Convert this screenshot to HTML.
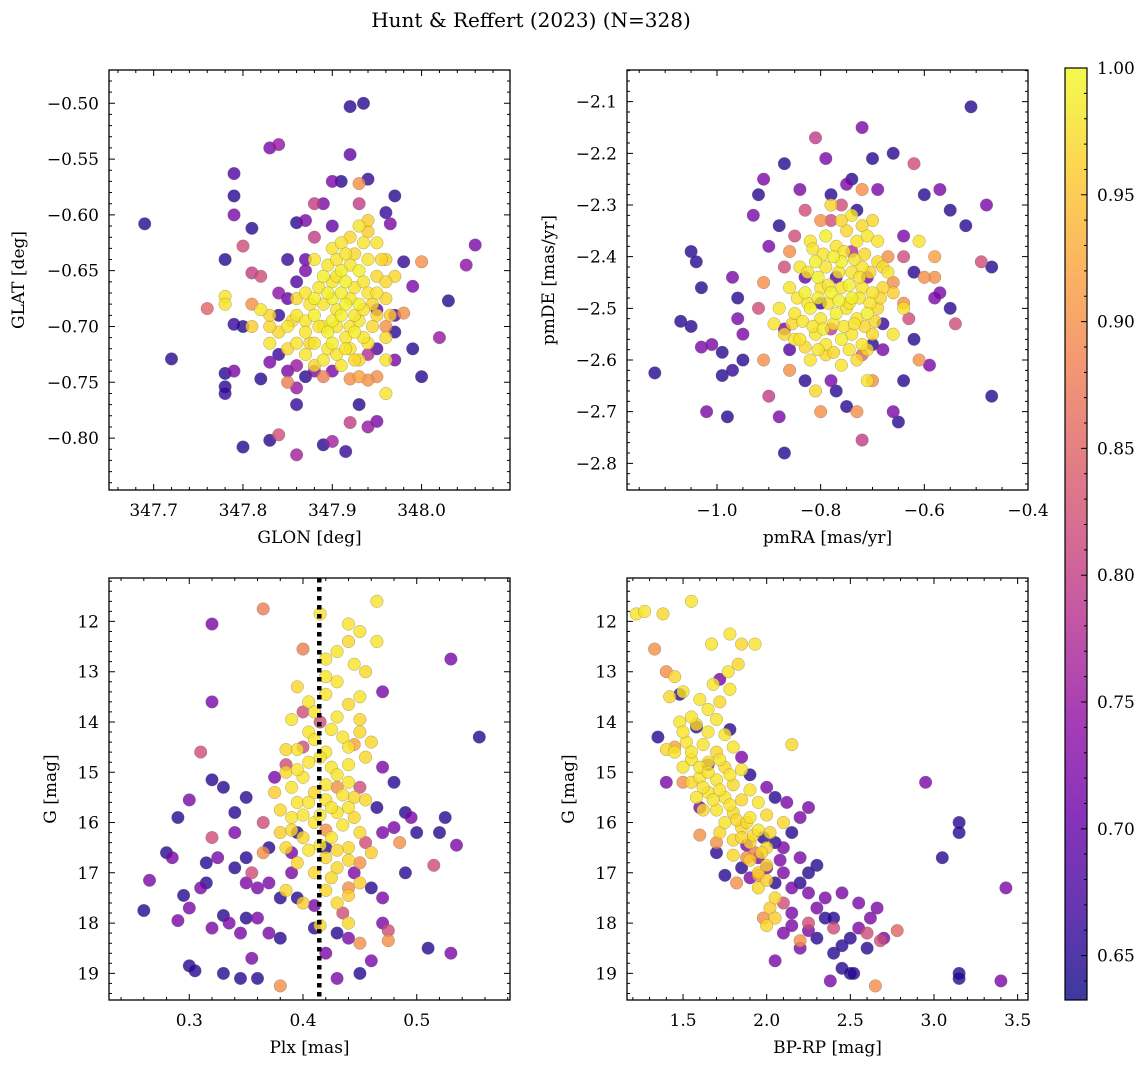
<!DOCTYPE html>
<html><head><meta charset="utf-8">
<style>
html,body{margin:0;padding:0;background:#fff;}
svg{display:block;font-family:"DejaVu Serif","Liberation Serif",serif;}
</style></head>
<body>
<svg id="fig" width="1148" height="1068" viewBox="0 0 1148 1068" xmlns="http://www.w3.org/2000/svg">
<text x="531" y="27" text-anchor="middle" font-size="20">Hunt &amp; Reffert (2023) (N=328)</text>
</svg>
<script>
// ---------- DATA ----------
// [x, y, membership probability]
const glonGlat = [
[347.69,-0.608,0.65],[347.72,-0.729,0.65],[347.92,-0.503,0.65],[347.935,-0.5,0.65],[347.92,-0.546,0.7],[347.94,-0.568,0.66],
[347.83,-0.54,0.72],[347.84,-0.537,0.75],[347.79,-0.563,0.68],[347.79,-0.583,0.65],[347.79,-0.6,0.72],[347.78,-0.64,0.65],
[347.76,-0.684,0.85],[347.78,-0.742,0.65],[347.79,-0.74,0.72],[347.8,-0.808,0.65],[347.83,-0.802,0.65],[347.84,-0.797,0.82],
[347.86,-0.815,0.76],[347.9,-0.803,0.76],[347.89,-0.806,0.65],[347.915,-0.812,0.66],[347.92,-0.786,0.8],[347.94,-0.79,0.75],
[347.95,-0.785,0.72],[347.86,-0.77,0.66],[348.06,-0.627,0.72],[348.05,-0.645,0.74],[348.03,-0.677,0.65],[348.0,-0.642,0.9],
[348.0,-0.745,0.65],[348.02,-0.71,0.75],[347.97,-0.583,0.65],[347.96,-0.598,0.66],[347.965,-0.608,0.72],[347.98,-0.642,0.66],
[347.99,-0.664,0.72],[347.9,-0.57,0.72],[347.91,-0.57,0.65],[347.93,-0.572,0.9],[347.93,-0.59,0.8],[347.86,-0.607,0.65],
[347.87,-0.605,0.72],[347.88,-0.59,0.8],[347.89,-0.59,0.72],[347.81,-0.612,0.65],[347.8,-0.628,0.82],[347.81,-0.652,0.8],
[347.82,-0.655,0.82],[347.78,-0.673,0.98],[347.78,-0.68,0.98],[347.81,-0.68,0.9],[347.8,-0.7,0.65],[347.79,-0.698,0.66],
[347.78,-0.754,0.65],[347.78,-0.76,0.66],[347.83,-0.732,0.72],[347.82,-0.747,0.65],[347.96,-0.7,0.9],[347.97,-0.705,0.65],
[347.98,-0.688,0.9],[347.99,-0.72,0.65],[347.97,-0.73,0.72],[347.95,-0.745,0.9],[347.96,-0.76,0.98],[347.96,-0.73,0.98],
[347.94,-0.748,0.9],[347.92,-0.747,0.9],[347.93,-0.77,0.65],[347.85,-0.74,0.72],[347.87,-0.745,0.65],[347.88,-0.74,0.72],
[347.86,-0.755,0.75],[347.87,-0.65,0.72],[347.86,-0.66,0.68],[347.85,-0.675,0.7],[347.84,-0.69,0.66],[347.95,-0.685,0.7],
[347.97,-0.69,0.68],[347.86,-0.735,0.75],[347.84,-0.725,0.66],[347.88,-0.62,0.8],[347.9,-0.61,0.7],[347.85,-0.64,0.66],
[347.94,-0.725,0.78],[347.89,-0.745,0.88],[347.93,-0.745,0.92],[347.85,-0.75,0.88],
[347.9,-0.63,0.98],[347.91,-0.625,0.98],[347.92,-0.62,0.97],[347.93,-0.61,0.98],[347.94,-0.615,0.96],[347.95,-0.625,0.98],
[347.88,-0.64,0.98],[347.89,-0.655,0.99],[347.9,-0.66,0.98],[347.91,-0.65,0.99],[347.92,-0.645,0.98],[347.93,-0.65,0.99],
[347.94,-0.64,0.98],[347.95,-0.655,0.97],[347.87,-0.67,0.98],[347.88,-0.675,0.99],[347.89,-0.68,0.98],[347.9,-0.675,0.99],
[347.91,-0.67,0.99],[347.92,-0.675,0.98],[347.93,-0.68,0.99],[347.94,-0.67,0.98],[347.96,-0.675,0.97],[347.86,-0.69,0.98],
[347.87,-0.695,0.98],[347.88,-0.69,0.99],[347.89,-0.7,0.98],[347.9,-0.695,0.99],[347.91,-0.69,0.99],[347.92,-0.7,0.98],
[347.93,-0.695,0.98],[347.95,-0.69,0.97],[347.85,-0.7,0.98],[347.84,-0.705,0.97],[347.86,-0.715,0.98],[347.88,-0.715,0.98],
[347.9,-0.715,0.99],[347.92,-0.72,0.98],[347.94,-0.715,0.98],[347.96,-0.71,0.97],[347.89,-0.73,0.98],[347.91,-0.735,0.98],
[347.93,-0.73,0.97],[347.87,-0.725,0.98],[347.82,-0.685,0.98],[347.83,-0.7,0.97],[347.83,-0.715,0.98],[347.97,-0.655,0.97],
[347.96,-0.64,0.96],[347.95,-0.67,0.98]
];
const glonGlatCore = [
[347.895,-0.645,0.98],[347.905,-0.655,0.98],[347.915,-0.66,0.99],[347.925,-0.665,0.98],[347.935,-0.66,0.98],[347.885,-0.665,0.98],
[347.895,-0.67,0.99],[347.905,-0.685,0.98],[347.915,-0.68,0.99],[347.925,-0.69,0.98],[347.935,-0.685,0.98],[347.945,-0.68,0.97],
[347.875,-0.68,0.98],[347.885,-0.7,0.98],[347.895,-0.705,0.99],[347.905,-0.7,0.98],[347.915,-0.71,0.98],[347.925,-0.705,0.99],
[347.935,-0.71,0.98],[347.945,-0.7,0.97],[347.87,-0.705,0.98],[347.875,-0.715,0.97],[347.895,-0.72,0.98],[347.905,-0.725,0.98],
[347.915,-0.72,0.98],[347.925,-0.73,0.97],[347.905,-0.64,0.98],[347.915,-0.635,0.98],[347.925,-0.635,0.97],[347.935,-0.625,0.98],
[347.94,-0.605,0.96],[347.955,-0.64,0.97],[347.96,-0.66,0.97],[347.965,-0.69,0.96],[347.86,-0.675,0.97],[347.855,-0.695,0.97],
[347.83,-0.69,0.97],[347.81,-0.7,0.96],[347.85,-0.72,0.97],[347.88,-0.735,0.97],
[347.87,-0.64,0.7],[347.9,-0.74,0.72],[347.95,-0.72,0.68],[347.84,-0.67,0.74]
];
const pmraPmde = [
[-1.12,-2.625,0.65],[-1.07,-2.525,0.65],[-1.05,-2.535,0.65],[-1.05,-2.39,0.65],[-1.04,-2.41,0.65],[-1.03,-2.46,0.65],
[-1.03,-2.575,0.72],[-1.01,-2.57,0.72],[-1.02,-2.7,0.72],[-0.98,-2.71,0.65],[-0.99,-2.585,0.65],[-0.99,-2.63,0.65],
[-0.97,-2.62,0.66],[-0.97,-2.44,0.72],[-0.96,-2.48,0.65],[-0.96,-2.52,0.72],[-0.95,-2.6,0.65],[-0.95,-2.55,0.72],
[-0.93,-2.32,0.72],[-0.92,-2.28,0.65],[-0.91,-2.25,0.72],[-0.9,-2.38,0.72],[-0.88,-2.34,0.65],[-0.87,-2.22,0.65],
[-0.88,-2.71,0.72],[-0.87,-2.78,0.65],[-0.9,-2.67,0.8],[-0.84,-2.27,0.72],[-0.83,-2.31,0.82],[-0.81,-2.17,0.8],
[-0.79,-2.21,0.72],[-0.78,-2.28,0.65],[-0.76,-2.3,0.82],[-0.75,-2.26,0.72],[-0.74,-2.25,0.65],[-0.72,-2.15,0.72],
[-0.7,-2.21,0.65],[-0.69,-2.27,0.72],[-0.66,-2.2,0.65],[-0.62,-2.22,0.82],[-0.6,-2.28,0.65],[-0.57,-2.27,0.72],
[-0.55,-2.31,0.65],[-0.52,-2.34,0.65],[-0.51,-2.11,0.65],[-0.48,-2.3,0.72],[-0.49,-2.41,0.82],[-0.47,-2.42,0.65],
[-0.47,-2.67,0.65],[-0.54,-2.53,0.82],[-0.55,-2.5,0.65],[-0.57,-2.47,0.72],[-0.58,-2.44,0.9],[-0.6,-2.44,0.9],
[-0.58,-2.4,0.92],[-0.58,-2.48,0.72],[-0.59,-2.61,0.72],[-0.61,-2.6,0.9],[-0.62,-2.56,0.65],[-0.63,-2.52,0.82],
[-0.64,-2.64,0.65],[-0.65,-2.72,0.65],[-0.66,-2.7,0.72],[-0.7,-2.64,0.9],[-0.71,-2.64,0.98],[-0.72,-2.755,0.8],
[-0.73,-2.7,0.9],[-0.75,-2.69,0.65],[-0.77,-2.66,0.65],[-0.78,-2.64,0.72],[-0.8,-2.7,0.9],[-0.81,-2.66,0.97],
[-0.83,-2.64,0.65],[-0.86,-2.62,0.9],[-0.85,-2.56,0.98],[-0.87,-2.54,0.72],[-0.89,-2.53,0.98],[-0.91,-2.6,0.9],
[-0.92,-2.5,0.82],[-0.91,-2.45,0.9],[-0.87,-2.42,0.82],[-0.86,-2.39,0.9],[-0.85,-2.36,0.82],[-0.8,-2.33,0.9],
[-0.78,-2.33,0.82],[-0.72,-2.27,0.9],[-0.73,-2.31,0.65],[-0.64,-2.36,0.72],[-0.61,-2.37,0.98],[-0.62,-2.43,0.65],
[-0.64,-2.4,0.82],[-0.66,-2.45,0.9],[-0.64,-2.49,0.9],[-0.64,-2.5,0.98],[-0.68,-2.58,0.72],[-0.7,-2.57,0.65],
[-0.66,-2.55,0.98],[-0.83,-2.44,0.7],[-0.77,-2.44,0.68],[-0.71,-2.44,0.72],[-0.86,-2.58,0.68],[-0.78,-2.54,0.8],
[-0.68,-2.53,0.66],[-0.74,-2.39,0.78],[-0.8,-2.49,0.66],[-0.72,-2.59,0.85],[-0.67,-2.4,0.9],
[-0.82,-2.37,0.98],[-0.79,-2.36,0.99],[-0.77,-2.38,0.98],[-0.75,-2.35,0.97],[-0.73,-2.37,0.98],[-0.71,-2.36,0.98],
[-0.7,-2.33,0.97],[-0.84,-2.42,0.98],[-0.81,-2.41,0.99],[-0.79,-2.42,0.98],[-0.76,-2.41,0.99],[-0.74,-2.43,0.98],
[-0.72,-2.42,0.98],[-0.69,-2.41,0.97],[-0.67,-2.43,0.98],[-0.86,-2.46,0.98],[-0.83,-2.47,0.99],[-0.8,-2.46,0.98],
[-0.78,-2.47,0.99],[-0.76,-2.46,0.98],[-0.74,-2.48,0.99],[-0.72,-2.46,0.98],[-0.7,-2.47,0.98],[-0.68,-2.46,0.97],
[-0.88,-2.5,0.98],[-0.85,-2.51,0.98],[-0.82,-2.5,0.99],[-0.8,-2.52,0.98],[-0.77,-2.51,0.99],[-0.75,-2.5,0.98],
[-0.73,-2.52,0.98],[-0.71,-2.51,0.99],[-0.69,-2.5,0.97],[-0.87,-2.55,0.97],[-0.84,-2.56,0.98],[-0.81,-2.55,0.98],
[-0.79,-2.57,0.98],[-0.76,-2.56,0.99],[-0.74,-2.55,0.98],[-0.72,-2.57,0.98],[-0.7,-2.55,0.97],[-0.82,-2.6,0.98],
[-0.79,-2.59,0.97],[-0.76,-2.61,0.98],[-0.73,-2.6,0.97],[-0.78,-2.3,0.97],[-0.74,-2.32,0.98],[-0.69,-2.37,0.98]
];
const pmraPmdeCore = [
[-0.815,-2.385,0.98],[-0.795,-2.395,0.98],[-0.775,-2.4,0.99],[-0.755,-2.39,0.98],[-0.735,-2.405,0.98],[-0.715,-2.395,0.97],
[-0.825,-2.43,0.98],[-0.805,-2.44,0.99],[-0.785,-2.455,0.98],[-0.765,-2.43,0.98],[-0.745,-2.455,0.99],[-0.725,-2.44,0.98],
[-0.705,-2.43,0.97],[-0.845,-2.48,0.98],[-0.825,-2.49,0.98],[-0.805,-2.48,0.99],[-0.785,-2.49,0.98],[-0.765,-2.485,0.99],
[-0.745,-2.49,0.98],[-0.725,-2.48,0.98],[-0.705,-2.49,0.98],[-0.685,-2.48,0.97],[-0.855,-2.53,0.97],[-0.835,-2.525,0.98],
[-0.815,-2.535,0.98],[-0.795,-2.54,0.99],[-0.775,-2.53,0.98],[-0.755,-2.535,0.98],[-0.735,-2.53,0.98],[-0.715,-2.535,0.97],
[-0.695,-2.525,0.97],[-0.83,-2.575,0.97],[-0.805,-2.58,0.98],[-0.775,-2.585,0.97],[-0.745,-2.58,0.98],[-0.71,-2.58,0.97],
[-0.76,-2.33,0.97],[-0.72,-2.34,0.97],[-0.68,-2.42,0.97],[-0.66,-2.47,0.96]
];
const plxG = [
[0.26,17.75,0.65],[0.265,17.15,0.72],[0.28,16.6,0.65],[0.285,16.7,0.72],[0.29,17.95,0.72],[0.29,15.9,0.65],
[0.295,17.45,0.65],[0.3,18.85,0.65],[0.3,17.7,0.72],[0.3,15.55,0.72],[0.305,18.95,0.65],[0.31,17.3,0.72],
[0.31,14.6,0.82],[0.315,16.8,0.65],[0.315,17.2,0.65],[0.32,12.05,0.72],[0.32,13.6,0.72],[0.32,15.15,0.65],
[0.32,18.1,0.72],[0.32,16.3,0.82],[0.325,16.7,0.72],[0.33,15.3,0.65],[0.33,17.85,0.65],[0.33,19.0,0.65],
[0.335,18.0,0.72],[0.34,15.8,0.65],[0.34,16.2,0.72],[0.345,18.2,0.72],[0.345,19.1,0.65],[0.35,15.5,0.65],
[0.35,16.7,0.65],[0.35,17.2,0.72],[0.355,18.7,0.72],[0.36,19.1,0.65],[0.36,17.9,0.72],[0.365,11.75,0.88],
[0.365,16.0,0.82],[0.37,17.2,0.72],[0.37,16.5,0.65],[0.375,15.1,0.72],[0.38,17.5,0.65],[0.38,18.3,0.65],
[0.38,19.25,0.9],[0.385,14.85,0.82],[0.39,16.6,0.72],[0.39,17.0,0.72],[0.395,17.5,0.65],[0.395,16.2,0.65],
[0.4,13.8,0.82],[0.4,14.5,0.82],[0.4,12.55,0.88],[0.41,18.1,0.65],[0.41,17.65,0.72],[0.415,14.0,0.82],
[0.42,18.6,0.72],[0.42,16.5,0.65],[0.43,19.1,0.72],[0.43,18.2,0.65],[0.435,17.8,0.82],[0.44,18.3,0.72],
[0.44,17.3,0.9],[0.445,17.0,0.72],[0.45,18.4,0.9],[0.45,15.3,0.82],[0.45,16.8,0.9],[0.455,16.4,0.82],
[0.46,18.75,0.72],[0.46,17.3,0.65],[0.465,15.7,0.65],[0.47,14.9,0.72],[0.47,13.4,0.72],[0.47,16.2,0.72],
[0.475,18.35,0.9],[0.475,18.15,0.82],[0.48,15.2,0.65],[0.48,16.1,0.72],[0.485,16.4,0.9],[0.49,15.8,0.65],
[0.495,15.9,0.72],[0.5,16.2,0.65],[0.51,18.5,0.65],[0.515,16.85,0.82],[0.52,16.2,0.65],[0.525,15.9,0.65],
[0.53,12.75,0.72],[0.53,18.6,0.72],[0.535,16.45,0.72],[0.555,14.3,0.65],[0.445,14.45,0.92],[0.43,15.3,0.9],
[0.42,16.15,0.9],[0.365,16.6,0.9],[0.355,17.0,0.82],
[0.465,11.6,0.98],[0.415,11.85,0.98],[0.44,12.05,0.98],[0.44,12.4,0.97],[0.465,12.4,0.98],[0.42,12.75,0.98],
[0.445,12.85,0.98],[0.455,13.0,0.97],[0.42,13.1,0.98],[0.43,13.2,0.98],[0.395,13.3,0.97],[0.42,13.45,0.98],
[0.45,13.5,0.98],[0.405,13.6,0.98],[0.44,13.65,0.97],[0.39,13.95,0.98],[0.405,14.2,0.98],[0.43,13.9,0.98],
[0.45,13.95,0.97],[0.425,14.15,0.98],[0.41,14.35,0.98],[0.385,14.55,0.97],[0.395,14.55,0.98],[0.42,14.6,0.98],
[0.44,14.5,0.98],[0.46,14.4,0.97],[0.405,14.8,0.98],[0.425,14.9,0.98],[0.385,15.0,0.97],[0.4,15.1,0.98],
[0.43,15.05,0.98],[0.39,15.3,0.98],[0.41,15.4,0.97],[0.42,15.55,0.98],[0.44,15.2,0.98],[0.445,15.5,0.97],
[0.395,15.6,0.98],[0.38,15.75,0.97],[0.4,15.85,0.98],[0.43,15.8,0.98],[0.445,15.9,0.97],[0.41,16.0,0.98],
[0.39,16.15,0.97],[0.425,16.3,0.98],[0.44,16.5,0.97],[0.405,16.55,0.98],[0.42,16.7,0.97],[0.43,16.9,0.97],
[0.45,16.2,0.97],[0.385,16.5,0.97],[0.44,15.7,0.98],[0.42,17.35,0.97],[0.43,17.6,0.97],[0.385,17.35,0.97],
[0.44,18.0,0.97],[0.415,18.05,0.97]
];
const plxGCore = [
[0.43,12.6,0.98],[0.45,12.2,0.98],[0.41,13.8,0.98],[0.435,14.3,0.98],[0.415,14.7,0.98],[0.44,14.85,0.98],
[0.455,14.7,0.97],[0.395,14.95,0.98],[0.42,15.25,0.98],[0.435,15.45,0.98],[0.405,15.6,0.98],[0.425,15.7,0.98],
[0.455,15.55,0.97],[0.39,15.9,0.98],[0.415,15.85,0.98],[0.435,16.05,0.98],[0.4,16.3,0.97],[0.43,16.55,0.97],
[0.415,16.45,0.98],[0.395,16.8,0.97],[0.44,16.75,0.97],[0.41,17.0,0.97],[0.425,17.1,0.97],[0.45,17.2,0.96],
[0.4,17.6,0.96],[0.44,17.45,0.96],[0.46,16.6,0.96],[0.38,16.2,0.96],[0.375,15.4,0.96],[0.45,14.2,0.97],
[0.36,17.3,0.72],[0.35,17.9,0.65],[0.37,18.2,0.72],[0.34,16.9,0.65],[0.47,17.5,0.72],[0.49,17.0,0.65],
[0.47,18.0,0.72],[0.45,19.0,0.65]
];
const bprpG = [
[1.22,11.85,0.98],[1.27,11.8,0.98],[1.38,11.85,0.97],[1.55,11.6,0.98],[1.67,12.45,0.98],[1.78,12.25,0.98],
[1.85,12.45,0.97],[1.93,12.45,0.98],[1.77,13.0,0.98],[1.83,12.85,0.97],[1.68,13.25,0.98],[1.78,13.35,0.98],
[1.42,13.5,0.97],[1.5,13.4,0.98],[1.45,13.1,0.97],[1.6,13.55,0.98],[1.65,13.75,0.98],[1.55,13.9,0.98],
[1.72,13.6,0.97],[1.7,13.95,0.98],[1.48,14.0,0.98],[1.58,14.05,0.97],[1.65,14.2,0.98],[1.75,14.25,0.98],
[1.52,14.4,0.98],[1.62,14.45,0.98],[1.7,14.6,0.97],[1.8,14.5,0.98],[1.45,14.6,0.98],[1.55,14.75,0.98],
[1.65,14.8,0.98],[1.75,14.9,0.97],[1.85,14.95,0.98],[1.6,15.1,0.98],[1.7,15.15,0.98],[1.8,15.25,0.97],
[1.9,15.35,0.98],[1.65,15.4,0.98],[1.75,15.5,0.98],[1.85,15.55,0.97],[1.95,15.6,0.98],[1.7,15.75,0.98],
[1.8,15.8,0.97],[1.9,15.9,0.98],[2.0,15.85,0.97],[1.75,16.0,0.98],[1.85,16.1,0.97],[1.95,16.15,0.98],
[1.8,16.35,0.97],[1.9,16.4,0.97],[2.0,16.5,0.97],[2.1,16.0,0.97],[2.15,14.45,0.97],[2.0,16.85,0.97],
[1.95,17.3,0.97],[2.05,17.5,0.97],[2.0,18.05,0.97],[1.58,15.5,0.98],[1.5,14.9,0.98],[1.4,14.55,0.97],
[1.33,12.55,0.9],[1.4,13.0,0.9],[1.45,14.5,0.92],[1.5,15.2,0.9],[1.6,16.25,0.9],[1.7,16.4,0.9],
[1.88,16.7,0.9],[1.95,17.05,0.9],[1.98,17.9,0.9],[2.2,18.35,0.9],[2.25,18.0,0.82],[2.1,17.6,0.82],
[2.4,18.1,0.82],[2.6,18.2,0.82],[2.65,19.25,0.9],[2.78,18.15,0.85],[2.68,18.35,0.82],[1.82,17.2,0.9],[1.93,16.6,0.88],
[1.35,14.3,0.65],[1.4,15.2,0.72],[1.48,13.45,0.65],[1.58,14.1,0.65],[1.65,14.85,0.72],[1.72,13.15,0.72],
[1.78,14.15,0.65],[1.85,14.7,0.72],[1.9,15.05,0.65],[2.0,15.3,0.72],[2.05,15.5,0.65],[2.12,15.6,0.72],
[2.15,16.2,0.65],[2.25,15.7,0.72],[2.2,15.9,0.72],[1.6,15.7,0.72],[1.7,16.6,0.65],[1.75,17.05,0.65],
[1.85,16.9,0.65],[1.9,17.1,0.72],[2.0,16.9,0.72],[2.05,17.2,0.65],[2.1,17.0,0.72],[2.15,17.3,0.72],
[2.2,17.2,0.65],[2.25,17.4,0.72],[2.3,16.85,0.65],[2.3,17.7,0.72],[2.35,17.9,0.65],[2.45,17.4,0.72],
[2.5,18.3,0.65],[2.55,18.1,0.72],[2.6,18.5,0.65],[2.62,17.9,0.72],[2.66,17.7,0.72],[2.7,18.3,0.72],
[2.4,18.6,0.65],[2.45,18.9,0.65],[2.5,19.0,0.65],[2.52,19.0,0.65],[2.38,19.15,0.72],[2.2,18.5,0.72],
[2.1,18.2,0.72],[2.05,18.75,0.72],[2.95,15.2,0.72],[3.05,16.7,0.65],[3.15,16.0,0.65],[3.15,16.2,0.65],
[3.15,19.0,0.65],[3.15,19.1,0.65],[3.4,19.15,0.72],[3.43,17.3,0.72],[2.45,18.45,0.65],[2.3,18.3,0.65],
[2.15,18.05,0.72],[1.98,16.3,0.65],[2.08,16.75,0.72],[1.88,16.45,0.72]
];
const bprpGCore = [
[1.5,14.2,0.98],[1.55,14.6,0.98],[1.6,14.9,0.98],[1.62,15.3,0.98],[1.68,15.55,0.98],[1.72,15.35,0.98],
[1.78,15.65,0.98],[1.82,15.95,0.97],[1.88,16.0,0.97],[1.92,16.25,0.97],[1.97,16.6,0.97],[2.02,16.2,0.97],
[1.72,16.2,0.97],[1.8,16.65,0.97],[1.85,16.3,0.97],[1.65,15.0,0.98],[1.72,14.75,0.98],[1.78,15.05,0.98],
[1.55,15.2,0.97],[1.62,15.75,0.97],[1.95,17.0,0.96],[2.0,17.15,0.96],[2.02,17.7,0.96],[2.05,17.9,0.96],[1.9,16.75,0.96],
[1.95,16.7,0.72],[2.05,16.4,0.65],[2.1,16.5,0.72],[2.2,16.7,0.72],[2.25,17.0,0.65],[2.35,17.5,0.72],
[2.15,17.8,0.72],[2.25,18.15,0.72],[2.4,17.9,0.65],[2.55,17.6,0.72]
];
const plxLine = 0.4143;
const cbTicks = [0.65,0.70,0.75,0.80,0.85,0.90,0.95,1.00];
const tickGLON = [347.7,347.8,347.9,348.0];
const tickGLAT = [-0.50,-0.55,-0.60,-0.65,-0.70,-0.75,-0.80];
const tickPMRA = [-1.0,-0.8,-0.6,-0.4];
const tickPMDE = [-2.1,-2.2,-2.3,-2.4,-2.5,-2.6,-2.7,-2.8];
const tickPLX = [0.3,0.4,0.5];
const tickG = [12,13,14,15,16,17,18,19];
const tickBPRP = [1.5,2.0,2.5,3.0,3.5];

// ---------- HELPERS ----------
const NS="http://www.w3.org/2000/svg";
const svg=document.getElementById('fig');
function mk(tag,attrs,parent){const e=document.createElementNS(NS,tag);for(const k in attrs)e.setAttribute(k,attrs[k]);(parent||svg).appendChild(e);return e;}
const plasma=[[13,8,135],[65,4,157],[106,0,168],[143,13,164],[177,42,144],[204,71,120],[225,100,98],[242,132,75],[252,166,54],[252,206,37],[240,249,33]];
const VMIN=0.6325,VMAX=1.0;
function cmap(v){let t=(v-VMIN)/(VMAX-VMIN);t=Math.max(0,Math.min(1,t))*10;const i=Math.min(9,Math.floor(t)),f=t-i;const a=plasma[i],b=plasma[i+1];return `rgb(${Math.round(a[0]+(b[0]-a[0])*f)},${Math.round(a[1]+(b[1]-a[1])*f)},${Math.round(a[2]+(b[2]-a[2])*f)})`;}
function lin(d0,d1,r0,r1){return v=>r0+(v-d0)/(d1-d0)*(r1-r0);}
function fmt(v,dec){return (v<0?'\u2212':'')+Math.abs(v).toFixed(dec);}
const FS=17;

function panel(o){
  const g=mk('g',{});
  
  
  const sx=lin(o.xd[0],o.xd[1],o.L,o.R), sy=lin(o.yd[0],o.yd[1],o.T,o.B);
  const pts=o.data.slice().sort((a,b)=>a[2]-b[2]);
  const pg=mk('g',{},g);
  
  
  for(const d of pts){
    const c=mk('circle',{cx:sx(d[0]).toFixed(1),cy:sy(d[1]).toFixed(1),r:6.3,fill:cmap(d[2]),'fill-opacity':0.8,stroke:'#666','stroke-opacity':0.55,'stroke-width':0.5},pg);
    
    
  }
  if(o.extra)o.extra(g,sx,sy);
  const fr=mk('rect',{x:o.L,y:o.T,width:o.R-o.L,height:o.B-o.T,fill:'none',stroke:'#000','stroke-width':1.3},g);
  
  
  let tp='';
  const xm0=Math.ceil(Math.min(...o.xd)/o.xminor-1e-6), xm1=Math.floor(Math.max(...o.xd)/o.xminor+1e-6);
  for(let k=xm0;k<=xm1;k++){const x=sx(k*o.xminor);tp+=`M${x},${o.B}v-3M${x},${o.T}v3`;}
  const ym0=Math.ceil(Math.min(...o.yd)/o.yminor-1e-6), ym1=Math.floor(Math.max(...o.yd)/o.yminor+1e-6);
  for(let k=ym0;k<=ym1;k++){const y=sy(k*o.yminor);tp+=`M${o.L},${y}h3M${o.R},${y}h-3`;}
  for(const v of o.xt){const x=sx(v);tp+=`M${x},${o.B}v-6M${x},${o.T}v6`;}
  for(const v of o.yt){const y=sy(v);tp+=`M${o.L},${y}h6M${o.R},${y}h-6`;}
  const tk=mk('path',{d:tp,stroke:'#000','stroke-width':1,fill:'none'},g);
  
  
  for(const v of o.xt){const t=mk('text',{x:sx(v),y:o.B+26,'text-anchor':'middle','font-size':FS},g);t.textContent=fmt(v,o.xdec);
    
    }
  for(const v of o.yt){const t=mk('text',{x:o.L-10,y:sy(v)+6,'text-anchor':'end','font-size':FS},g);t.textContent=fmt(v,o.ydec);
    
    }
  const xl=mk('text',{x:(o.L+o.R)/2,y:o.B+53,'text-anchor':'middle','font-size':FS},g);xl.textContent=o.xlab;
  
  
  const cy=(o.T+o.B)/2;
  const yl=mk('text',{x:o.ylx,y:cy,'text-anchor':'middle','font-size':FS,transform:`rotate(-90 ${o.ylx} ${cy})`},g);yl.textContent=o.ylab;
  
  
}

panel({name:'glon-glat-panel',L:109,R:510,T:70,B:490,xd:[347.650,348.099],yd:[-0.4702,-0.8465],
  data:glonGlat.concat(glonGlatCore),xt:tickGLON,yt:tickGLAT,xminor:0.02,yminor:0.01,xdec:1,ydec:2,xlab:'GLON [deg]',ylab:'GLAT [deg]',ylx:24});
panel({name:'pmra-pmde-panel',L:627,R:1028,T:70,B:490,xd:[-1.1736,-0.4],yd:[-2.0387,-2.8516],
  data:pmraPmde.concat(pmraPmdeCore),xt:tickPMRA,yt:tickPMDE,xminor:0.05,yminor:0.02,xdec:1,ydec:1,xlab:'pmRA [mas/yr]',ylab:'pmDE [mas/yr]',ylx:554});
panel({name:'plx-g-panel',L:109,R:510,T:578,B:1000,xd:[0.2294,0.582],yd:[11.136,19.53],
  data:plxG.concat(plxGCore),xt:tickPLX,yt:tickG,xminor:0.02,yminor:0.2,xdec:1,ydec:0,xlab:'Plx [mas]',ylab:'G [mag]',ylx:56,
  extra:(g,sx,sy)=>{const l=mk('line',{x1:sx(plxLine),x2:sx(plxLine),y1:578,y2:1000,stroke:'#000','stroke-width':4.5,'stroke-dasharray':'4.5,4.5'},g);
    
    }});
panel({name:'cmd-panel',L:627,R:1028,T:578,B:1000,xd:[1.165,3.562],yd:[11.136,19.53],
  data:bprpG.concat(bprpGCore),xt:tickBPRP,yt:tickG,xminor:0.1,yminor:0.2,xdec:1,ydec:0,xlab:'BP-RP [mag]',ylab:'G [mag]',ylx:574});

(function(){
  const L=1065,R=1087,T=68,B=1000;
  const cg=mk('g',{});
  
  
  const defs=mk('defs',{},cg);
  const lg=mk('linearGradient',{id:'cbg',x1:0,y1:1,x2:0,y2:0},defs);
  for(let i=0;i<=20;i++){const v=VMIN+(VMAX-VMIN)*i/20;mk('stop',{offset:i/20,'stop-color':cmap(v),'stop-opacity':0.8},lg);}
  const r=mk('rect',{x:L,y:T,width:R-L,height:B-T,fill:'url(#cbg)',stroke:'#000','stroke-width':1.2},cg);
  
  
  const sy=lin(VMIN,VMAX,B,T);
  let d='';
  for(let k=64;k<=100;k++){const y=sy(k/100);d+=`M${R},${y}h-3`;}
  for(const v of cbTicks){d+=`M${R},${sy(v)}h-6`;}
  mk('path',{d:d,stroke:'#000','stroke-width':1},cg);
  for(const v of cbTicks){const t=mk('text',{x:R+10,y:sy(v)+6,'font-size':FS},cg);t.textContent=v.toFixed(2);
    
    }
})();
</script>
</body></html>
